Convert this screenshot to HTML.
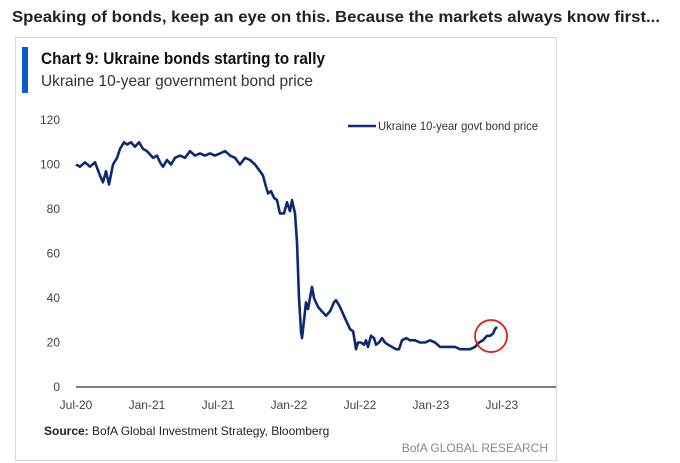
<!DOCTYPE html>
<html><head><meta charset="utf-8"><style>
html,body{margin:0;padding:0;background:#fff;width:680px;height:463px;overflow:hidden}
svg text{font-family:"Liberation Sans",sans-serif}
</style></head><body>
<svg width="680" height="463" viewBox="0 0 680 463">
<text x="12" y="22" font-size="16" font-weight="bold" fill="#222" textLength="648" lengthAdjust="spacingAndGlyphs">Speaking of bonds, keep an eye on this. Because the markets always know first...</text>
<rect x="15.5" y="37.5" width="541" height="423" fill="#fff" stroke="#d8d8d8"/>
<rect x="22" y="47" width="6" height="46" fill="#0a5ccc"/>
<text x="41" y="64" font-size="17" font-weight="bold" fill="#111" textLength="284" lengthAdjust="spacingAndGlyphs">Chart 9: Ukraine bonds starting to rally</text>
<text x="41" y="86" font-size="16" fill="#333" textLength="272" lengthAdjust="spacingAndGlyphs">Ukraine 10-year government bond price</text>
<g id="yaxis"></g>
<g id="xaxis"></g>
<line x1="76" y1="387" x2="556" y2="387" stroke="#555" stroke-width="1.5"/>
<path id="series" fill="none" stroke="#0c2a74" stroke-width="2.6" stroke-linejoin="round"/>
<circle id="highlight" r="16" fill="none" stroke="#e0201b" stroke-width="1.8"/>
<line x1="348" y1="126" x2="376" y2="126" stroke="#0c2a74" stroke-width="2.6"/>
<text x="378" y="130" font-size="12" fill="#333" textLength="160" lengthAdjust="spacingAndGlyphs">Ukraine 10-year govt bond price</text>
<text x="44" y="435" font-size="12" fill="#222"><tspan font-weight="bold">Source:</tspan> BofA Global Investment Strategy, Bloomberg</text>
<text x="548" y="452" font-size="12" fill="#8a8a8a" text-anchor="end">BofA GLOBAL RESEARCH</text>
</svg>
<script>
const months=[0,.34,.76,1.18,1.61,2.03,2.28,2.54,2.79,3.13,3.47,3.72,4.06,4.31,4.65,4.99,5.33,5.66,6.0,6.51,6.85,7.1,7.35,7.69,8.03,8.37,8.79,9.21,9.64,10.06,10.48,10.9,11.33,11.75,12.17,12.6,13.02,13.44,13.86,14.29,14.71,15.13,15.55,15.81,16.06,16.23,16.48,16.74,16.99,17.24,17.58,17.84,18.09,18.26,18.51,18.68,18.85,19.02,19.1,19.27,19.44,19.61,19.78,19.95,20.12,20.46,20.79,21.13,21.47,21.81,21.98,22.32,22.65,22.91,23.16,23.42,23.58,23.67,23.84,24.09,24.35,24.51,24.68,24.94,25.19,25.36,25.61,25.87,26.12,26.37,26.71,27.05,27.3,27.56,27.9,28.23,28.66,29.08,29.5,29.92,30.35,30.77,31.19,31.61,32.04,32.46,32.88,33.31,33.73,34.07,34.4,34.74,35.0,35.25,35.42,35.59];
const prices=[100,99,101,99,101,95,92,97,91,100,103,107,110,109,110,108,110,107,106,103,104,101,99,102,100,103,104,103,106,104,105,104,105,104,105,106,104,103,100,103,102,100,97,95,90,87,88,85,84,78,78,83,79,84,78,65,40,25,22,30,38,35,40,45,40,36,34,32,34,38,39,36,32,29,26,25,20,17,20,20,19,21,18,23,22,19,20,22,20,19,18,17,17,21,22,21,21,20,20,21,20,18,18,18,18,17,17,17,18,20,21,23,23,24,26,27];
const yTicks=[0,20,40,60,80,100,120];
const xTickLabels=["Jul-20","Jan-21","Jul-21","Jan-22","Jul-22","Jan-23","Jul-23"];
const xTickMonths=[0,6,12,18,24,30,36];
const highlightMonth=35.0, highlightValue=22;
const NS="http://www.w3.org/2000/svg";
const X=m=>76+m*11.83, Y=v=>387-v*2.225;
const ya=document.getElementById('yaxis');
yTicks.forEach(v=>{const t=document.createElementNS(NS,'text');


t.setAttribute('x',60);t.setAttribute('y',Y(v)+4);t.setAttribute('text-anchor','end');t.setAttribute('font-size','12');t.setAttribute('fill','#444');t.textContent=v;ya.appendChild(t);});
const xa=document.getElementById('xaxis');
xTickLabels.forEach((l,i)=>{const t=document.createElementNS(NS,'text');


t.setAttribute('x',X(xTickMonths[i]));t.setAttribute('y',409);t.setAttribute('text-anchor','middle');t.setAttribute('font-size','12');t.setAttribute('fill','#444');t.textContent=l;xa.appendChild(t);});
document.getElementById('series').setAttribute('d',months.map((m,i)=>(i?'L':'M')+X(m).toFixed(1)+' '+Y(prices[i]).toFixed(1)).join(' '));
const c=document.getElementById('highlight');c.setAttribute('cx',X(highlightMonth)+1);c.setAttribute('cy',Y(highlightValue)-2);
</script>
</body></html>
